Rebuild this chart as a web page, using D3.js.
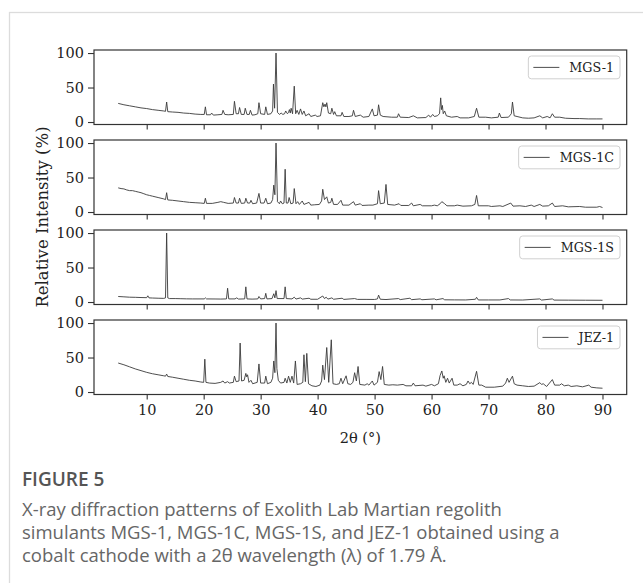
<!DOCTYPE html>
<html>
<head>
<meta charset="utf-8">
<script src="https://cdn.jsdelivr.net/npm/d3@7"></script>
<style>
  body { margin: 0; background: #fff; }
  .tick text { font-family: "DejaVu Serif", serif; }
</style>
</head>
<body>
<div id="chart"></div>
<script>
// sample names, top to bottom
var seriesNames = ['MGS-1', 'MGS-1C', 'MGS-1S', 'JEZ-1'];
var xTicks = [10, 20, 30, 40, 50, 60, 70, 80, 90];
var yTicks = [0, 50, 100];

// [2theta, relative intensity]
var mgs1 = [[5,27],[6,25],[7,23.5],[8,22],[9,20.5],[10,19.5],[11,18],[12,17],[13,16],[13.3,15.5],[13.5,29],[13.7,15],[14.5,14.5],[15.5,14],[16.5,13],[17.5,12.5],[18.5,11.5],[19.5,11],[20.1,11],[20.3,22],[20.5,10.5],[21.2,10.5],[21.4,13],[21.7,10],[22.5,10.5],[23.2,11],[23.4,17],[23.7,11],[24.3,10.5],[25.2,11],[25.4,30],[25.7,12],[26.1,12],[26.3,21],[26.6,11],[27.1,11],[27.3,20],[27.6,11],[28,11],[28.2,17],[28.5,10],[29,10.5],[29.5,12],[29.7,28],[30,12],[30.7,11],[30.9,22],[31.2,11],[31.8,12],[32.1,16],[32.25,55],[32.45,20],[32.7,100],[32.95,14],[33.3,11],[33.6,13],[33.9,11],[34.2,12],[34.4,16],[34.7,12],[34.9,14],[35.05,18],[35.2,13],[35.35,20],[35.6,12],[35.9,52],[36.15,12],[36.4,17],[36.7,11],[37,19],[37.3,11],[37.6,16],[37.9,9],[38.5,12],[38.8,8],[39.6,10],[39.9,8],[40.5,9],[40.9,28],[41.1,22],[41.3,26],[41.45,22],[41.6,28],[41.9,13],[42.3,12],[42.5,20],[42.8,11],[43,15],[43.3,9],[44.1,9],[44.3,14],[44.6,8],[45.5,8],[46.1,9],[46.3,17],[46.6,8],[47.5,10],[48,7],[49,8],[49.6,19],[49.9,9],[50.5,10],[50.7,25],[51,10],[51.5,8],[53,7],[54,7],[54.2,12],[54.5,7],[56,6.5],[56.8,9],[57.5,6],[59,6.5],[59.5,10],[59.8,7],[60.2,11],[60.5,8],[61,9],[61.4,12],[61.6,35],[61.75,18],[61.9,24],[62.05,12],[62.3,16],[62.6,9],[63.5,7],[64.5,8],[65,6],[66.5,6],[67.5,8],[67.9,20],[68.3,7],[69.5,7],[70.5,6],[71.7,7],[71.9,13],[72.2,6.5],[73.5,7],[74,12],[74.2,29],[74.5,9],[75,8],[76,6],[77,5.5],[78,6],[79,9],[79.5,6],[80.3,8],[80.8,6],[81.2,12],[81.6,7],[82.5,7],[83.5,5.5],[85,5],[86,5],[87.5,4.5],[89,4.5],[90,4.5]];

var mgs1c = [[5,35],[5.5,34],[6,33.5],[6.5,32],[7,31],[7.5,31],[8,30],[8.5,29],[9,28],[9.5,26.5],[10,25],[10.5,24],[11,23],[12,21],[13,19],[13.3,18],[13.5,28],[13.7,17.5],[14.5,17],[15.5,16],[16.5,15],[17.5,14],[18.5,13.5],[19.5,13],[20.1,12.5],[20.3,20],[20.5,12.5],[21.5,12.5],[22.5,14],[23,15],[23.5,14],[24.3,12.5],[25.2,13],[25.4,21],[25.7,13],[26.1,13],[26.3,20],[26.6,12.5],[27.2,13],[27.4,20],[27.7,13],[28.1,13],[28.3,17],[28.6,12],[29.3,13],[29.7,27],[30,13],[30.6,13],[30.9,20],[31.2,12],[31.8,13],[32.1,18],[32.3,39],[32.5,25],[32.7,100],[32.95,15],[33.3,12],[33.5,16],[33.8,12],[34.1,13],[34.3,62],[34.5,13],[34.8,13],[35,21],[35.3,12],[35.7,13],[35.9,34],[36.2,12],[36.5,15],[36.8,11],[37.3,16],[37.6,11],[38.5,14],[38.8,10],[39.5,10.5],[40.3,11],[40.7,16],[40.9,33],[41.2,18],[41.6,22],[41.9,13],[42.3,14],[42.5,20],[42.8,11],[43.5,11],[44.1,17],[44.4,10],[45.5,10],[46.3,15],[46.6,10],[47.5,12],[47.8,9.5],[49,10],[49.7,10],[50.5,12],[50.7,31],[51,12],[51.7,13],[52,40],[52.3,11],[53.5,10],[54.3,12],[54.6,9.5],[56,9.5],[56.5,13],[56.8,9],[58,11],[58.4,9],[60,9],[60.5,10],[61,9],[61.5,12],[61.8,15],[62.3,12],[62.7,9],[64,9],[64.5,10],[65.5,8.5],[67,9],[67.6,11],[67.9,24],[68.2,9],[70,9],[70.5,8],[72,9],[72.5,8],[73.9,13],[74.3,8.5],[75.5,9],[76.5,8],[77.5,10],[78,8],[79,11],[79.5,8.5],[80.5,9],[81.2,13],[81.6,8],[83,9],[84,7.5],[86,8],[87,7],[89,7],[89.5,8],[90,6.5]];

var mgs1s = [[5,8],[6,7.5],[7,7],[8,6.8],[9,6.5],[10,6.3],[10.2,9],[10.4,6],[11,5.8],[12,5.5],[13,5.3],[13.3,6],[13.5,100],[13.7,6],[14,5],[15,5],[16,4.8],[17,4.6],[18,4.5],[19,4.5],[20.1,4.5],[20.3,6],[20.5,4.5],[22,4.4],[23,4.3],[24,4.5],[24.2,20],[24.4,4.5],[25.5,4.5],[25.8,6],[26.1,4.3],[27.2,4.5],[27.4,22],[27.6,4.5],[28.5,4.2],[29.5,4.5],[29.7,8],[30,4.5],[30.7,5],[30.9,12.6],[31.1,4.5],[32,5],[32.3,12],[32.5,6],[32.7,16.5],[32.9,5],[34.1,5],[34.3,22],[34.5,5],[35.5,4.5],[35.9,7],[36.2,4.3],[37,6],[37.3,4.2],[38.5,5.5],[38.8,4],[40,4],[40.9,8.7],[41.2,5],[41.5,7],[41.8,4.2],[42.5,6],[42.8,4],[44.3,5.5],[44.6,3.8],[46.5,5],[47,3.8],[48.5,3.8],[50,3.7],[50.5,4.5],[50.7,10],[51,4],[52,3.6],[54.2,5],[54.5,3.5],[56.2,5.5],[56.5,3.4],[58,4.5],[58.3,3.3],[60.5,4.5],[60.8,3.2],[62,5],[62.3,3.2],[64,3.1],[66,3],[67.7,4],[67.9,6.8],[68.2,3],[70,3],[72,3],[73.5,5],[73.8,3],[76,2.9],[79,4.5],[79.3,2.8],[81.2,4.5],[81.5,2.8],[84,2.7],[87,2.6],[90,2.5]];

var jez1 = [[5,42],[6,39.5],[7,36.5],[8,33.5],[9,31],[10,28.5],[11,26.5],[12,25],[13,23.5],[13.3,23],[13.5,26],[13.7,22.5],[14.5,21.5],[15.5,20],[16.5,18.5],[17.5,17],[18.5,16],[19.5,14.5],[20,14],[20.2,47.6],[20.4,14],[21,13],[22,12.5],[23,14],[23.4,16],[23.7,13],[24.2,15],[24.5,13],[25.2,14],[25.4,23],[25.7,15],[26.2,16],[26.4,71],[26.65,16],[27.1,17],[27.4,27],[27.55,22],[27.7,25],[27.95,14],[28.3,17],[28.6,12],[29.4,14],[29.7,40.7],[30,13],[30.7,13],[30.9,23],[31.2,12],[31.8,14],[32.1,20],[32.3,45],[32.5,28],[32.7,100],[32.85,34],[33.1,17],[33.5,13],[34.1,14],[34.3,20],[34.6,13],[34.9,23],[35.2,14],[35.5,23],[35.8,13],[36.1,45],[36.4,11],[37,12],[37.4,14],[37.6,54],[37.85,15],[38.1,56],[38.4,12],[39,9],[39.7,8],[40.4,10],[40.7,16],[40.9,39],[41.2,18],[41.6,64.5],[41.95,14],[42.4,75.7],[42.7,12],[43.3,11],[43.8,12],[44.1,20],[44.4,12],[45,23.5],[45.3,12],[45.8,11],[46.2,14],[46.5,28],[46.8,16],[47.1,37],[47.4,11],[48.3,10],[48.7,12],[49,10],[49.6,16],[49.9,10],[50.5,14],[50.8,29.6],[51.1,18],[51.4,37],[51.7,11],[52.5,10],[53.2,10.5],[54,10],[55,11],[55.5,9],[56.5,9],[56.8,13],[57.1,9],[58.5,10],[59,8.5],[60,11],[60.5,9],[61.2,12],[61.5,24],[61.8,30.5],[62.05,20],[62.2,23.5],[62.5,14],[62.8,20],[63.1,13],[63.6,20],[63.9,10],[64.5,10],[65,12],[65.5,9],[66.1,11],[66.4,16],[66.7,12],[67,14],[67.3,11],[67.9,30],[68.3,10],[68.8,10],[69.5,7],[71,7],[72.5,8.5],[73,13],[73.3,20],[73.6,14],[74.2,23],[74.5,12],[75,10],[76,9],[77,8],[78,8.5],[79,13.6],[79.3,11],[79.6,12],[80.2,8],[81.2,18],[81.6,10],[82.5,10],[82.8,12],[83.3,9],[84,10],[84.5,8],[85.5,9],[86.5,7.5],[87.6,10],[88,7],[89,6],[90,5.5]];

var patterns = [mgs1, mgs1c, mgs1s, jez1];

var captionTitle = 'FIGURE 5';
var captionLines = [
    'X-ray diffraction patterns of Exolith Lab Martian regolith',
    'simulants MGS-1, MGS-1C, MGS-1S, and JEZ-1 obtained using a',
    'cobalt cathode with a 2\u03b8 wavelength (\u03bb) of 1.79 \u00c5.'
];

var width = 643;
var height = 583;
var left = 94, right = 626.7;
var panelTop = 50, panelStep = 90, panelH = 74.5;
var serif = '"DejaVu Serif", serif';
var ink = '#333';

var svg = d3.select('#chart')
    .append('svg')
    .attr('width', width)
    .attr('height', height);

// card outline (only top and left edges fall inside the picture)
svg.append('rect')
    .attr('x', 9.5)
    .attr('y', 12.5)
    .attr('width', 700)
    .attr('height', 700)
    .attr('fill', '#fff')
    .attr('stroke', '#dcdcdc')
    .attr('stroke-width', 1.3);

var x = d3.scaleLinear()
    .domain([0.75, 94.25])
    .range([left, right]);

function drawPanel(data, name, i) {
    var top = panelTop + i * panelStep;
    var y = d3.scaleLinear()
        .domain([-3.6, 104.4])
        .range([top + panelH, top]);

    var g = svg.append('g');

    var line = d3.line()
        .x(function (d) { return x(d[0]); })
        .y(function (d) { return y(d[1]); });

    g.append('path')
        .datum(data)
        .attr('d', line)
        .attr('fill', 'none')
        .attr('stroke', '#3a3a3a')
        .attr('stroke-width', 0.9)
        .attr('stroke-linejoin', 'round');

    var yAxis = g.append('g')
        .attr('transform', 'translate(' + left + ',0)')
        .call(d3.axisLeft(y).tickValues(yTicks).tickSize(6).tickPadding(4));

    var isLast = i === patterns.length - 1;
    var xAxis = g.append('g')
        .attr('transform', 'translate(0,' + (top + panelH) + ')')
        .call(d3.axisBottom(x).tickValues(xTicks).tickSize(5).tickPadding(5)
            .tickFormat(isLast ? d3.format('d') : function () { return ''; }));

    [yAxis, xAxis].forEach(function (a) {
        a.select('.domain').remove();
        a.selectAll('line').attr('stroke', ink).attr('stroke-width', 1.1);
        a.selectAll('text')
            .attr('fill', '#222')
            .style('font-size', '14.5px');
    });

    g.append('rect')
        .attr('x', left)
        .attr('y', top)
        .attr('width', right - left)
        .attr('height', panelH)
        .attr('fill', 'none')
        .attr('stroke', ink)
        .attr('stroke-width', 1.2);

    // legend
    var lg = g.append('g');
    var label = lg.append('text')
        .attr('y', top + 6 + 11.4)
        .attr('dy', '0.35em')
        .attr('font-family', serif)
        .attr('font-size', 12.7)
        .attr('fill', '#222')
        .text(name);
    var tw = label.node().getComputedTextLength();
    var boxR = right - 6.7;
    var boxL = boxR - 6 - tw - 10 - 26 - 5;
    lg.insert('rect', 'text')
        .attr('x', boxL)
        .attr('y', top + 6)
        .attr('width', boxR - boxL)
        .attr('height', 22.8)
        .attr('rx', 3)
        .attr('fill', '#fff')
        .attr('fill-opacity', 0.8)
        .attr('stroke', '#d0d0d0')
        .attr('stroke-width', 1);
    lg.append('line')
        .attr('x1', boxL + 5)
        .attr('x2', boxL + 31)
        .attr('y1', top + 6 + 11.4)
        .attr('y2', top + 6 + 11.4)
        .attr('stroke', '#3a3a3a')
        .attr('stroke-width', 0.9);
    label.attr('x', boxL + 41);
}

patterns.forEach(function (p, i) {
    drawPanel(p, seriesNames[i], i);
});

svg.append('text')
    .attr('x', (left + right) / 2)
    .attr('y', 443)
    .attr('text-anchor', 'middle')
    .attr('font-family', serif)
    .attr('font-size', 14.5)
    .attr('fill', '#222')
    .text('2\u03b8 (\u00b0)');

svg.append('text')
    .attr('transform', 'translate(48,217) rotate(-90)')
    .attr('text-anchor', 'middle')
    .attr('font-family', serif)
    .attr('font-size', 16.5)
    .attr('fill', '#222')
    .text('Relative Intensity (%)');

// caption
svg.append('text')
    .attr('x', 22)
    .attr('y', 486)
    .attr('font-family', '"Open Sans", sans-serif')
    .attr('font-weight', 600)
    .attr('font-size', 19)
    .attr('fill', '#555')
    .text(captionTitle);

svg.selectAll('.cap')
    .data(captionLines)
    .enter().append('text')
    .attr('class', 'cap')
    .attr('x', 22)
    .attr('y', function (d, i) { return 516 + i * 23; })
    .attr('font-family', '"Open Sans", sans-serif')
    .attr('font-size', 18.5)
    .attr('fill', '#666')
    .text(function (d) { return d; });
</script>
</body>
</html>
